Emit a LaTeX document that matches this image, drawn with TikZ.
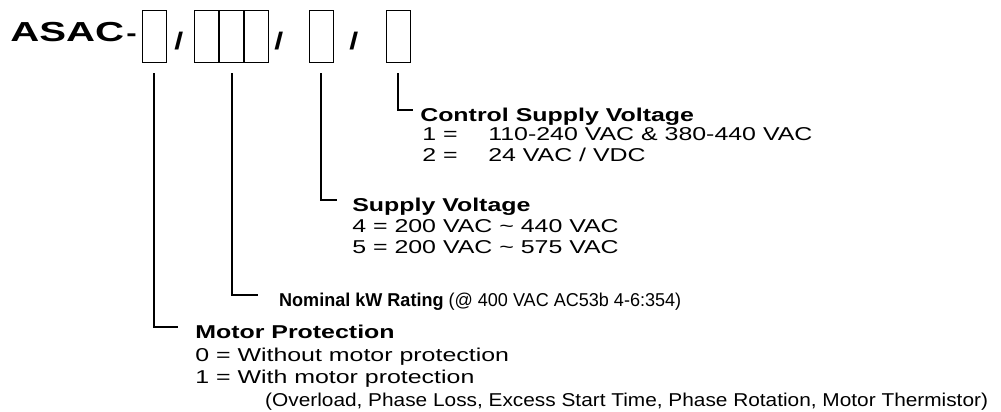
\documentclass[tikz,border=0pt]{standalone}
\usepackage{fontspec}
\setmainfont{Liberation Sans}
\usetikzlibrary{positioning}
\tikzset{
  cell/.style={
    draw, line width=0.8pt, minimum width=24pt, minimum height=52pt,
    inner sep=0pt
  },
  conn/.style={line width=2pt},
  txt/.style={
    anchor=base west, inner sep=0pt,
    font=\fontsize{18.6}{21}\selectfont
  },
  wide/.style={txt, xscale=1.34},
  hd/.style={wide, font=\bfseries\fontsize{18.6}{21}\selectfont},
  note/.style={txt, xscale=1.12},
  big/.style={
    anchor=base west, inner sep=0pt, xscale=1.46,
    font=\bfseries\fontsize{27.5}{30}\selectfont
  },
  sl/.style={
    anchor=base west, inner sep=0pt, xscale=1.34,
    font=\bfseries\fontsize{24}{24}\selectfont
  }
}

\begin{document}
\begin{tikzpicture}[x=1pt,y=-1pt]
\useasboundingbox (0,0) rectangle (1001,412);

% type code
\node[big] (asac) at (10,42) {ASAC};
\node[anchor=base west, inner sep=0pt, xscale=1.3, font=\bfseries\fontsize{24}{24}\selectfont] (dash) at (126,42) {-};
\node[cell] (b1) at (154,36) {};
\node[sl] (s1) at (174,49.5) {/};
\node[cell] (b2a) at (206.5,36) {};
\node[cell] (b2b) at (231.5,36) {};
\node[cell] (b2c) at (256.5,36) {};
\node[sl] (s2) at (274,49.5) {/};
\node[cell] (b3) at (321,36) {};
\node[sl] (s3) at (349,49.5) {/};
\node[cell] (b4) at (398,36) {};

% stub ends
\coordinate (e1) at (178,327);
\coordinate (e2) at (258,295);
\coordinate (e3) at (337,200);
\coordinate (e4) at (413,110);

\draw[conn] ([yshift=-11pt]b4.south) |- (e4);
\draw[conn] ([yshift=-11pt]b3.south) |- (e3);
\draw[conn] ([yshift=-11pt]b2b.south) |- (e2);
\draw[conn] ([yshift=-11pt]b1.south) |- (e1);

% control supply
\node[hd] (csv) at (420,121) {Control Supply Voltage};
\node[wide] (csv1k) at (422,140) {1 =};
\node[wide] (csv1v) at (488,140) {110-240 VAC \& 380-440 VAC};
\node[wide] (csv2k) at (422,161) {2 =};
\node[wide] (csv2v) at (488,161) {24 VAC / VDC};

% supply
\node[hd] (sv) at (352,211) {Supply Voltage};
\node[wide] (sv4) at (352,232) {4 = 200 VAC \textasciitilde{} 440 VAC};
\node[wide] (sv5) at (352,253) {5 = 200 VAC \textasciitilde{} 575 VAC};

% rating
\node[txt, xscale=0.97] (kw) at (279,306) {\textbf{Nominal kW Rating} (@ 400 VAC AC53b 4-6:354)};

% motor protection
\node[hd] (mp) at (195,338) {Motor Protection};
\node[wide] (mp0) at (195,361) {0 = Without motor protection};
\node[wide] (mp1) at (195,383) {1 = With motor protection};
\node[note] (mpx) at (265,406) {(Overload, Phase Loss, Excess Start Time, Phase Rotation, Motor Thermistor)};
\end{tikzpicture}
\end{document}
